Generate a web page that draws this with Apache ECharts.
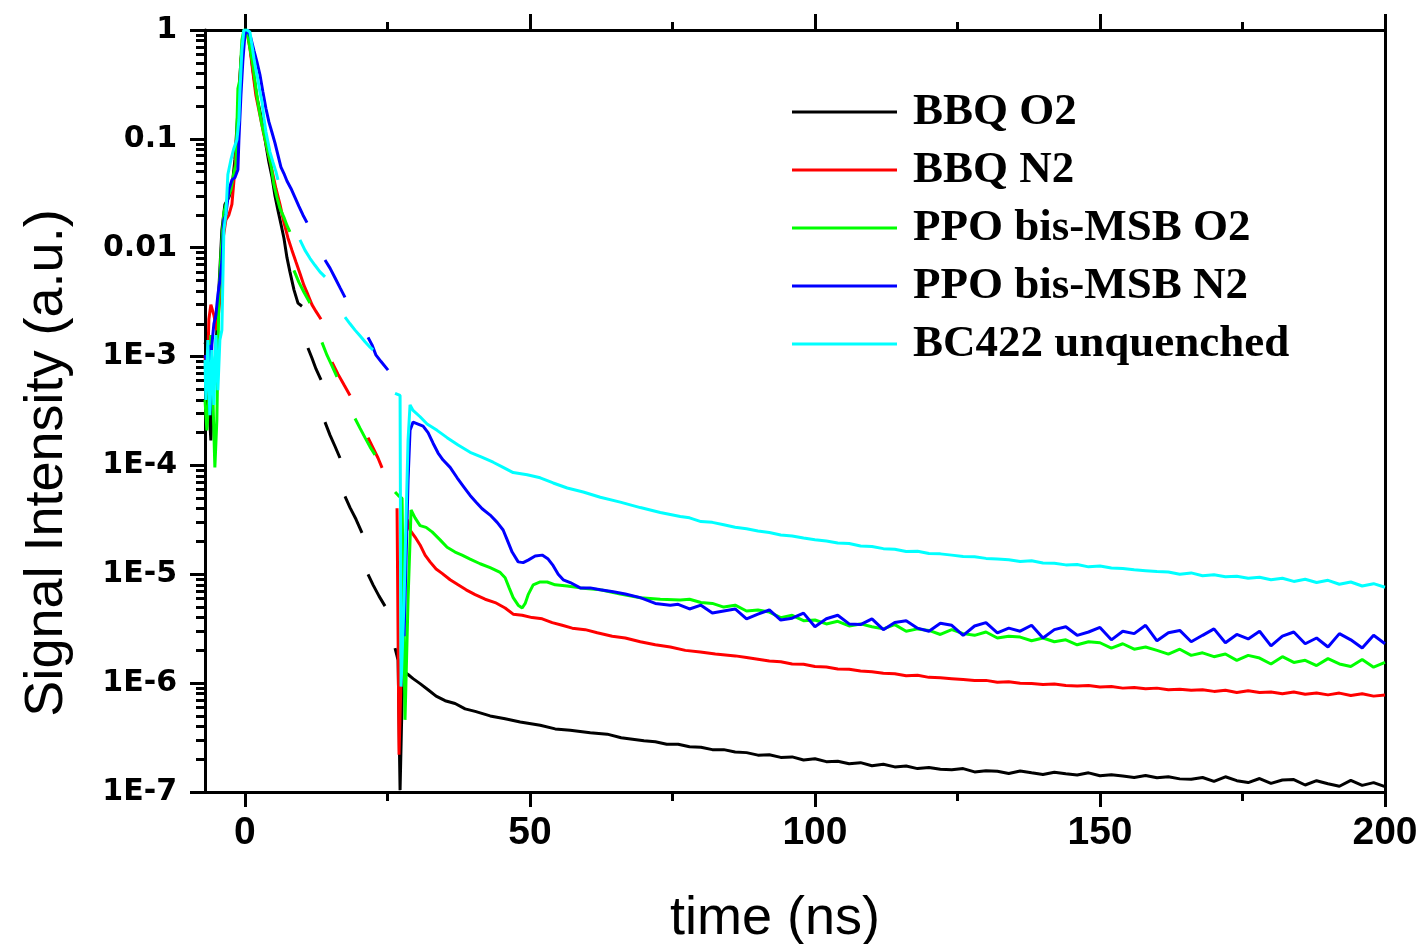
<!DOCTYPE html>
<html>
<head>
<meta charset="utf-8">
<script src="https://cdn.jsdelivr.net/npm/echarts@6/dist/echarts.min.js"></script>
<style>
  html, body { margin: 0; padding: 0; background: #ffffff; }
  #chart { width: 1421px; height: 944px; }
</style>
</head>
<body>
<div id="chart"></div>
<script>
// Time axis ticks (ns)
const timeTicks = [0, 50, 100, 150, 200];
const timeMinorTicks = [25, 75, 125, 175];
// Intensity axis decades
const intensityTicks = [1e-7, 1e-6, 1e-5, 1e-4, 1e-3, 0.01, 0.1, 1];

const seriesNames = ['BBQ O2', 'BBQ N2', 'PPO bis-MSB O2', 'PPO bis-MSB N2', 'BC422 unquenched'];
const seriesColors = ['#000000', '#ff0000', '#00ff00', '#0000ff', '#00ffff'];

// Decay traces: [time (ns), signal intensity (a.u.)]; null marks a gap in the record
const bbqO2 = [
  [-7.0,1.3e-3],[-6.67,1.5e-3],[-6.32,3.6e-4],[-5.97,1.7e-4],[-5.62,4.4e-4],[-5.09,1.15e-3],[-4.57,4.1e-3],[-4.04,1.46e-2],
  [-3.51,2.5e-2],[-2.81,2.9e-2],[-2.28,3.5e-2],[-1.76,6.4e-2],[-1.23,0.18],[-0.70,0.53],[-0.18,0.96],[0.35,1.0],[0.88,0.73],
  [1.40,0.43],[2.11,0.24],[2.63,0.18],[3.16,0.134],[3.69,0.088],[4.21,0.061],[4.74,0.045],[5.27,0.030],[5.80,0.022],
  [6.32,0.0165],[6.85,0.0122],[7.38,0.0081],[7.90,0.0060],[8.61,0.0041],[9.31,0.0031],[10.01,0.0029],
  null,
  [11.06,1.2e-3],[11.76,9.7e-4],[12.47,7.7e-4],[13.35,6.1e-4],
  null,
  [14.05,2.5e-4],[14.93,1.9e-4],[15.80,1.5e-4],[16.68,1.17e-4],
  null,
  [17.56,5.2e-5],[18.44,4.1e-5],[19.49,3.2e-5],[20.54,2.4e-5],
  null,
  [21.60,1.0e-5],[22.48,8.0e-6],[23.53,6.3e-6],[24.58,5.1e-6],
  null,
  [26.34,2.1e-6],[26.87,1.63e-6],[27.22,1.04e-7],[27.57,7.0e-7],[27.92,1.27e-6],[28.62,1.2e-6],[29.50,1.1e-6],[30.73,9.9e-7],
  [32.13,8.7e-7],[33.54,7.6e-7],[35.12,6.9e-7],[36.87,6.5e-7],[38.63,5.8e-7],[40.39,5.5e-7],[43.02,5.0e-7],[45.65,4.7e-7],
  [48.29,4.4e-7],[51.80,4.1e-7],[54.43,3.8e-7],[57.07,3.7e-7],[60.58,3.5e-7],[63.56,3.4e-7],
  [66,3.15e-7],[68,3.05e-7],[70,2.95e-7],[72,2.9e-7],[74,2.75e-7],[76,2.75e-7],[78,2.6e-7],[80,2.58e-7],[82,2.45e-7],
  [84,2.45e-7],[86,2.33e-7],[88,2.3e-7],[90,2.18e-7],[92,2.2e-7],[94,2.08e-7],[96,2.1e-7],[98,1.97e-7],[100,2.02e-7],
  [102,1.9e-7],[104,1.92e-7],[106,1.82e-7],[108,1.86e-7],[110,1.74e-7],[112,1.8e-7],[114,1.7e-7],[116,1.73e-7],[118,1.64e-7],
  [120,1.68e-7],[122,1.62e-7],[124,1.6e-7],[126,1.64e-7],[128,1.53e-7],[130,1.57e-7],[132,1.55e-7],[134,1.48e-7],[136,1.56e-7],
  [138,1.5e-7],[140,1.45e-7],[142,1.52e-7],[144,1.47e-7],[146,1.43e-7],[148,1.5e-7],[150,1.41e-7],[152,1.44e-7],[154,1.4e-7],
  [156,1.36e-7],[158,1.42e-7],[160,1.35e-7],[162,1.38e-7],[164,1.32e-7],[166,1.31e-7],[168,1.36e-7],[170,1.25e-7],[172,1.38e-7],
  [174,1.27e-7],[176,1.22e-7],[178,1.33e-7],[180,1.2e-7],[182,1.29e-7],[184,1.3e-7],[186,1.16e-7],[188,1.27e-7],[190,1.19e-7],
  [192,1.13e-7],[194,1.28e-7],[196,1.15e-7],[198,1.22e-7],[200,1.12e-7]
];

const bbqN2 = [
  [-7.0,1.03e-3],[-6.67,4.4e-4],[-6.32,2.2e-3],[-5.97,3.0e-3],[-5.44,2.4e-3],[-4.92,1.75e-3],[-4.39,3.3e-3],[-3.86,1.18e-2],
  [-3.34,1.8e-2],[-2.81,2.0e-2],[-2.28,2.5e-2],[-1.76,5.2e-2],[-1.23,0.149],[-0.70,0.51],[-0.18,0.94],[0.35,0.96],[0.88,0.68],
  [1.40,0.41],[1.93,0.25],[2.63,0.166],[3.34,0.108],[4.04,0.076],[4.74,0.052],[5.44,0.035],[6.15,0.025],[6.85,0.017],
  [7.55,0.0123],[8.25,0.0095],[8.96,0.0074],[9.66,0.0058],[10.36,0.0045],[11.06,0.0037],[11.76,0.0030],[12.47,0.0026],[13.35,0.0022],
  null,
  [15.28,8.9e-4],[16.33,6.9e-4],[17.38,5.5e-4],[18.44,4.4e-4],
  null,
  [21.60,1.8e-4],[22.48,1.45e-4],[23.35,1.17e-4],[24.06,9.5e-5],
  null,
  [26.69,4.05e-5],[27.04,2.2e-7],[27.57,2.5e-6],[28.09,1.35e-5],[28.45,3.2e-5],[28.97,2.55e-5],[29.85,2.2e-5],[30.73,1.86e-5],
  [31.61,1.5e-5],[32.48,1.3e-5],[33.54,1.12e-5],[34.59,1.02e-5],[36.0,8.9e-6],[37.40,8.0e-6],[38.81,7.2e-6],[40.39,6.5e-6],
  [42.14,5.9e-6],[43.90,5.5e-6],[45.65,4.9e-6],[47.06,4.3e-6],[48.64,4.2e-6],[50.39,4.0e-6],[52.15,3.9e-6],[53.91,3.6e-6],
  [55.66,3.4e-6],[57.42,3.2e-6],[59.70,3.1e-6],[61.81,2.9e-6],[64.44,2.7e-6],[66.73,2.6e-6],[69.36,2.4e-6],[71.99,2.25e-6],
  [74.63,2.15e-6],[77.26,2.0e-6],[79.89,1.93e-6],[82.53,1.85e-6],[86.04,1.78e-6],
  [88,1.72e-6],[90,1.66e-6],[92,1.6e-6],[94,1.57e-6],[96,1.5e-6],[98,1.49e-6],[100,1.42e-6],[102,1.41e-6],[104,1.35e-6],
  [106,1.34e-6],[108,1.29e-6],[110,1.27e-6],[112,1.23e-6],[114,1.22e-6],[116,1.17e-6],[118,1.18e-6],[120,1.13e-6],[122,1.12e-6],
  [124,1.1e-6],[126,1.08e-6],[128,1.06e-6],[130,1.06e-6],[132,1.02e-6],[134,1.03e-6],[136,1.0e-6],[138,9.9e-7],[140,9.7e-7],
  [142,9.8e-7],[144,9.5e-7],[146,9.4e-7],[148,9.5e-7],[150,9.2e-7],[152,9.3e-7],[154,9.0e-7],[156,9.1e-7],[158,8.9e-7],
  [160,9.0e-7],[162,8.7e-7],[164,8.8e-7],[166,8.6e-7],[168,8.7e-7],[170,8.4e-7],[172,8.6e-7],[174,8.2e-7],[176,8.5e-7],
  [178,8.2e-7],[180,8.3e-7],[182,8.0e-7],[184,8.3e-7],[186,7.9e-7],[188,8.1e-7],[190,7.8e-7],[192,8.1e-7],[194,7.7e-7],
  [196,8.0e-7],[198,7.6e-7],[200,7.8e-7]
];

const ppoO2 = [
  [-7.0,4.0e-4],[-6.67,2.1e-4],[-6.32,4.2e-4],[-5.97,1.58e-3],[-5.62,4.4e-4],[-5.27,9.6e-5],[-4.92,2.6e-4],[-4.57,3.3e-3],
  [-4.21,8.6e-3],[-3.69,2.1e-2],[-3.16,2.7e-2],[-2.46,3.4e-2],[-1.93,4.9e-2],[-1.58,5.8e-2],[-1.23,0.29],[-0.88,0.35],
  [-0.53,0.81],[-0.18,1.0],[0.35,1.0],[0.88,0.68],[1.40,0.48],[1.93,0.29],[2.46,0.19],[2.99,0.134],[3.51,0.102],[4.04,0.076],
  [4.57,0.058],[5.09,0.038],[5.62,0.029],[6.15,0.023],[6.85,0.019],[7.38,0.016],[7.90,0.014],
  null,
  [8.60,6.2e-3],[9.48,4.8e-3],[10.36,3.9e-3],[11.41,3.1e-3],
  null,
  [13.52,1.35e-3],[14.40,1.03e-3],[15.28,8.2e-4],[16.15,6.5e-4],
  null,
  [19.32,2.7e-4],[20.19,2.2e-4],[21.07,1.8e-4],[21.95,1.48e-4],[22.83,1.25e-4],
  null,
  [26.34,5.7e-5],[27.04,5.2e-5],[27.57,5.0e-5],[28.09,4.6e-7],[28.62,5.8e-6],[29.15,3.9e-5],[29.85,3.3e-5],[30.73,2.8e-5],
  [31.78,2.7e-5],[32.84,2.45e-5],[34.24,2.07e-5],[35.47,1.77e-5],[36.87,1.6e-5],[38.10,1.5e-5],[39.51,1.38e-5],[41.26,1.25e-5],
  [43.02,1.15e-5],[44.78,1.04e-5],[45.65,9.3e-6],[46.36,7.5e-6],[47.06,6.1e-6],[47.94,5.2e-6],[48.64,4.9e-6],[49.17,5.4e-6],
  [49.69,6.5e-6],[50.57,8.0e-6],[51.80,8.5e-6],[53.03,8.5e-6],[54.43,8.0e-6],[56.54,7.8e-6],[58.82,7.5e-6],[62.34,7.2e-6],
  [65.85,6.6e-6],[69.36,6.1e-6],[72.87,5.9e-6],[76.38,5.8e-6],
  [78,5.9e-6],[80,5.5e-6],[82,5.4e-6],[84,5.0e-6],[86,5.2e-6],[88,4.6e-6],[90,4.7e-6],[92,4.5e-6],[94,4.0e-6],[96,4.2e-6],
  [98,3.75e-6],[100,3.8e-6],[102,3.5e-6],[104,3.7e-6],[106,3.35e-6],[108,3.5e-6],[110,3.3e-6],[112,3.15e-6],[114,3.45e-6],
  [116,3.0e-6],[118,3.15e-6],[120,3.05e-6],[122,2.8e-6],[124,3.1e-6],[126,2.85e-6],[128,2.75e-6],[130,2.95e-6],[132,2.6e-6],
  [134,2.7e-6],[136,2.65e-6],[138,2.45e-6],[140,2.6e-6],[142,2.4e-6],[144,2.5e-6],[146,2.25e-6],[148,2.4e-6],[150,2.35e-6],
  [152,2.1e-6],[154,2.3e-6],[156,2.05e-6],[158,2.15e-6],[160,2.0e-6],[162,1.85e-6],[164,2.05e-6],[166,1.8e-6],[168,1.9e-6],
  [170,1.75e-6],[172,1.85e-6],[174,1.62e-6],[176,1.8e-6],[178,1.7e-6],[180,1.5e-6],[182,1.75e-6],[184,1.55e-6],[186,1.62e-6],
  [188,1.45e-6],[190,1.68e-6],[192,1.5e-6],[194,1.42e-6],[196,1.65e-6],[198,1.4e-6],[200,1.55e-6]
];

const ppoN2 = [
  [-7.0,1.03e-3],[-6.67,8.9e-4],[-6.32,1.28e-3],[-6.15,3.2e-4],[-5.80,1.28e-3],[-5.44,2.0e-3],[-5.09,2.4e-3],[-4.74,3.7e-3],
  [-4.39,5.0e-3],[-4.04,7.4e-3],[-3.69,1.8e-2],[-3.34,2.0e-2],[-2.81,3.4e-2],[-2.28,4.2e-2],[-1.76,4.4e-2],[-1.23,5.2e-2],
  [-1.05,9.8e-2],[-0.70,0.25],[-0.35,0.53],[0,0.90],[0.53,1.0],[1.05,0.84],[1.58,0.65],[2.11,0.51],[2.63,0.39],[3.16,0.27],
  [3.69,0.19],[4.21,0.143],[4.74,0.115],[5.27,0.092],[5.80,0.071],[6.32,0.055],[6.85,0.048],[7.38,0.041],[8.08,0.035],
  [8.78,0.029],[9.48,0.024],[10.18,0.020],[10.89,0.017],
  null,
  [14.05,7.7e-3],[14.93,6.5e-3],[15.80,5.3e-3],[16.68,4.3e-3],[17.56,3.5e-3],
  null,
  [21.60,1.5e-3],[22.30,1.28e-3],[23.00,1.03e-3],[23.88,9.0e-4],[25.11,7.5e-4],
  null,
  [27.92,2.7e-6],[28.27,1.35e-5],[28.62,7.3e-5],[28.97,2.1e-4],[29.50,2.5e-4],[30.38,2.4e-4],[31.26,2.3e-4],[32.13,2.0e-4],
  [33.01,1.6e-4],[33.89,1.3e-4],[34.77,1.12e-4],[36.00,9.6e-5],[37.23,7.7e-5],[38.45,6.3e-5],[39.51,5.3e-5],[40.56,4.6e-5],
  [41.62,4.0e-5],[43.02,3.5e-5],[44.25,3.0e-5],[45.30,2.55e-5],[46.01,2.07e-5],[46.88,1.6e-5],[47.94,1.3e-5],[48.81,1.28e-5],
  [49.69,1.35e-5],[50.92,1.47e-5],[52.15,1.5e-5],[53.20,1.38e-5],[54.08,1.2e-5],[54.96,1.0e-5],[55.84,8.9e-6],[57.07,8.4e-6],
  [58.82,7.5e-6],[60.58,7.5e-6],[62.34,7.2e-6],[64.62,6.9e-6],[66.73,6.6e-6],[69.36,6.1e-6],[71.99,5.4e-6],[74.63,5.2e-6],
  [76,5.3e-6],[78,4.8e-6],[80,5.2e-6],[82,4.4e-6],[84,4.6e-6],[86,4.8e-6],[88,3.9e-6],[90,4.3e-6],[92,4.7e-6],[94,3.8e-6],
  [96,3.95e-6],[98,4.4e-6],[100,3.3e-6],[102,3.9e-6],[104,4.2e-6],[106,3.5e-6],[108,3.45e-6],[110,3.9e-6],[112,3.1e-6],
  [114,3.6e-6],[116,3.75e-6],[118,3.2e-6],[120,3.0e-6],[122,3.55e-6],[124,3.4e-6],[126,2.75e-6],[128,3.35e-6],[130,3.6e-6],
  [132,2.9e-6],[134,3.2e-6],[136,3.0e-6],[138,3.4e-6],[140,2.6e-6],[142,3.1e-6],[144,3.3e-6],[146,2.75e-6],[148,2.95e-6],
  [150,3.25e-6],[152,2.5e-6],[154,3.0e-6],[156,2.85e-6],[158,3.4e-6],[160,2.45e-6],[162,2.9e-6],[164,3.05e-6],[166,2.4e-6],
  [168,2.75e-6],[170,3.15e-6],[172,2.35e-6],[174,2.8e-6],[176,2.55e-6],[178,3.0e-6],[180,2.2e-6],[182,2.7e-6],[184,2.95e-6],
  [186,2.3e-6],[188,2.6e-6],[190,2.15e-6],[192,2.85e-6],[194,2.5e-6],[196,2.1e-6],[198,2.75e-6],[200,2.3e-6]
];

const bc422 = [
  [-7.0,9.3e-4],[-6.85,4.0e-4],[-6.50,1.42e-3],[-6.15,2.9e-4],[-5.80,1.15e-3],[-5.44,3.6e-4],[-5.09,1.58e-3],[-4.74,4.9e-4],
  [-4.39,1.42e-3],[-4.04,1.75e-3],[-3.69,1.46e-2],[-3.34,2.0e-2],[-2.99,4.7e-2],[-2.46,6.4e-2],[-1.93,8.2e-2],[-1.40,9.8e-2],
  [-1.05,0.149],[-0.88,0.27],[-0.53,0.65],[-0.18,1.0],[0.35,1.0],[0.88,0.96],[1.23,0.73],[1.58,0.55],[1.93,0.43],[2.28,0.35],
  [2.63,0.27],[2.99,0.22],[3.34,0.155],[3.69,0.116],[4.04,0.094],[4.39,0.076],[4.92,0.061],[5.44,0.050],[5.80,0.042],
  null,
  [9.66,1.18e-2],[10.53,9.5e-3],[11.41,8.0e-3],[12.29,6.9e-3],[13.17,6.0e-3],[14.05,5.4e-3],
  null,
  [17.56,2.3e-3],[18.44,2.0e-3],[19.32,1.75e-3],[20.19,1.55e-3],[21.07,1.37e-3],[21.95,1.22e-3],[22.48,1.15e-3],
  null,
  [26.34,4.6e-4],[27.22,4.4e-4],[27.39,9.3e-7],[27.92,5.8e-6],[28.27,3.2e-5],[28.62,1.7e-4],[28.97,3.6e-4],[29.50,3.2e-4],
  [30.73,2.8e-4],[31.96,2.4e-4],[33.71,2.1e-4],[35.47,1.8e-4],[37.40,1.54e-4],[39.51,1.32e-4],[41.44,1.2e-4],[43.55,1.07e-4],
  [45.30,9.6e-5],[47.06,8.6e-5],[49.52,8.2e-5],[51.80,7.7e-5],[54.08,6.9e-5],[56.54,6.2e-5],[59.35,5.7e-5],[62.34,5.1e-5],
  [65.85,4.6e-5],[69.36,4.1e-5],[72.87,3.7e-5],[76.38,3.4e-5],
  [78,3.3e-5],[80,3.05e-5],[82,3.0e-5],[84,2.85e-5],[86,2.7e-5],[88,2.62e-5],[90,2.5e-5],[92,2.42e-5],[94,2.3e-5],[96,2.25e-5],
  [98,2.15e-5],[100,2.08e-5],[102,2.02e-5],[104,1.94e-5],[106,1.92e-5],[108,1.82e-5],[110,1.8e-5],[112,1.72e-5],[114,1.7e-5],
  [116,1.62e-5],[118,1.63e-5],[120,1.55e-5],[122,1.54e-5],[124,1.5e-5],[126,1.46e-5],[128,1.45e-5],[130,1.4e-5],[132,1.38e-5],
  [134,1.36e-5],[136,1.31e-5],[138,1.33e-5],[140,1.27e-5],[142,1.26e-5],[144,1.22e-5],[146,1.23e-5],[148,1.17e-5],[150,1.19e-5],
  [152,1.14e-5],[154,1.13e-5],[156,1.1e-5],[158,1.08e-5],[160,1.06e-5],[162,1.05e-5],[164,1.0e-5],[166,1.03e-5],[168,9.7e-6],
  [170,9.9e-6],[172,9.5e-6],[174,9.6e-6],[176,9.2e-6],[178,9.4e-6],[180,8.9e-6],[182,9.2e-6],[184,8.6e-6],[186,9.0e-6],
  [188,8.4e-6],[190,8.8e-6],[192,8.1e-6],[194,8.5e-6],[196,7.8e-6],[198,8.2e-6],[200,7.6e-6]
];

const traces = [bbqO2, bbqN2, ppoO2, ppoN2, bc422];

// Minor ticks at 2..9 within every decade
const intensityMinorTicks = [];
for (let e = -7; e < 0; e++) {
  for (let m = 2; m <= 9; m++) intensityMinorTicks.push(m * Math.pow(10, e));
}

function formatIntensity(v) {
  const e = Math.round(Math.log10(v));
  if (e === 0) return '1';
  if (e === -1) return '0.1';
  if (e === -2) return '0.01';
  return '1E' + e;
}

const frame = { color: '#000000', width: 3 };
const tMin = -7, tMax = 200;

const chart = echarts.init(document.getElementById('chart'), null, { renderer: 'canvas' });

chart.setOption({
  animation: false,
  backgroundColor: '#ffffff',
  grid: { left: 205, right: 36, top: 30, bottom: 152, containLabel: false, outerBoundsMode: 'none' },
  legend: {
    orient: 'vertical',
    left: 792,
    top: 89,
    padding: 0,
    icon: 'rect',
    itemWidth: 105,
    itemHeight: 3,
    itemGap: 12,
    data: seriesNames,
    textStyle: {
      fontFamily: 'Liberation Serif',
      fontWeight: 'bold',
      fontSize: 45,
      color: '#000000',
      lineHeight: 46,
      padding: [0, 0, 0, 11]
    }
  },
  xAxis: [
    {
      type: 'value', position: 'bottom', min: tMin, max: tMax,
      axisLine: { show: true, onZero: false, lineStyle: frame },
      axisTick: { show: true, inside: false, length: 15, customValues: timeTicks, lineStyle: frame },
      axisLabel: {
        customValues: timeTicks, margin: 22,
        fontFamily: 'Liberation Sans', fontWeight: 'bold', fontSize: 39, color: '#000000'
      },
      splitLine: { show: false },
      name: 'time (ns)', nameLocation: 'middle', nameGap: 100,
      nameTextStyle: {
        fontFamily: 'Liberation Sans', fontSize: 54, color: '#000000', padding: [0, 40, 0, 0]
      }
    },
    {
      type: 'value', position: 'bottom', min: tMin, max: tMax,
      axisLine: { show: false, onZero: false },
      axisTick: { show: true, inside: false, length: 9, customValues: timeMinorTicks, lineStyle: frame },
      axisLabel: { show: false },
      splitLine: { show: false }
    },
    {
      type: 'value', position: 'top', min: tMin, max: tMax,
      axisLine: { show: true, onZero: false, lineStyle: frame },
      axisTick: { show: true, inside: false, length: 16, customValues: timeTicks, lineStyle: frame },
      axisLabel: { show: false },
      splitLine: { show: false }
    },
    {
      type: 'value', position: 'top', min: tMin, max: tMax,
      axisLine: { show: false, onZero: false },
      axisTick: { show: true, inside: false, length: 8, customValues: timeMinorTicks, lineStyle: frame },
      axisLabel: { show: false },
      splitLine: { show: false }
    }
  ],
  yAxis: [
    {
      type: 'log', logBase: 10, min: 1e-7, max: 1, position: 'left',
      axisLine: { show: true, onZero: false, lineStyle: frame },
      axisTick: { show: true, inside: false, length: 15, customValues: intensityTicks, lineStyle: frame },
      axisLabel: {
        customValues: intensityTicks, margin: 28, formatter: formatIntensity,
        fontFamily: 'DejaVu Sans', fontWeight: 'bold', fontSize: 30, color: '#000000'
      },
      splitLine: { show: false },
      name: 'Signal Intensity (a.u.)', nameLocation: 'middle', nameGap: 131, nameRotate: 90,
      nameTextStyle: {
        fontFamily: 'Liberation Sans', fontSize: 54, color: '#000000', padding: [0, 104, 0, 0]
      }
    },
    {
      type: 'log', logBase: 10, min: 1e-7, max: 1, position: 'left',
      axisLine: { show: false, onZero: false },
      axisTick: { show: true, inside: false, length: 9, customValues: intensityMinorTicks, lineStyle: frame },
      axisLabel: { show: false },
      splitLine: { show: false }
    },
    {
      type: 'log', logBase: 10, min: 1e-7, max: 1, position: 'right',
      axisLine: { show: true, onZero: false, lineStyle: frame },
      axisTick: { show: false },
      axisLabel: { show: false },
      splitLine: { show: false }
    }
  ],
  series: traces.map((trace, i) => ({
    name: seriesNames[i],
    type: 'line',
    xAxisIndex: 0,
    yAxisIndex: 0,
    data: trace.map(p => (p === null ? '-' : p)),
    symbol: 'none',
    showSymbol: false,
    connectNulls: false,
    clip: true,
    lineStyle: { color: seriesColors[i], width: 3 },
    itemStyle: { color: seriesColors[i] },
    emphasis: { disabled: true }
  }))
});
</script>
</body>
</html>
